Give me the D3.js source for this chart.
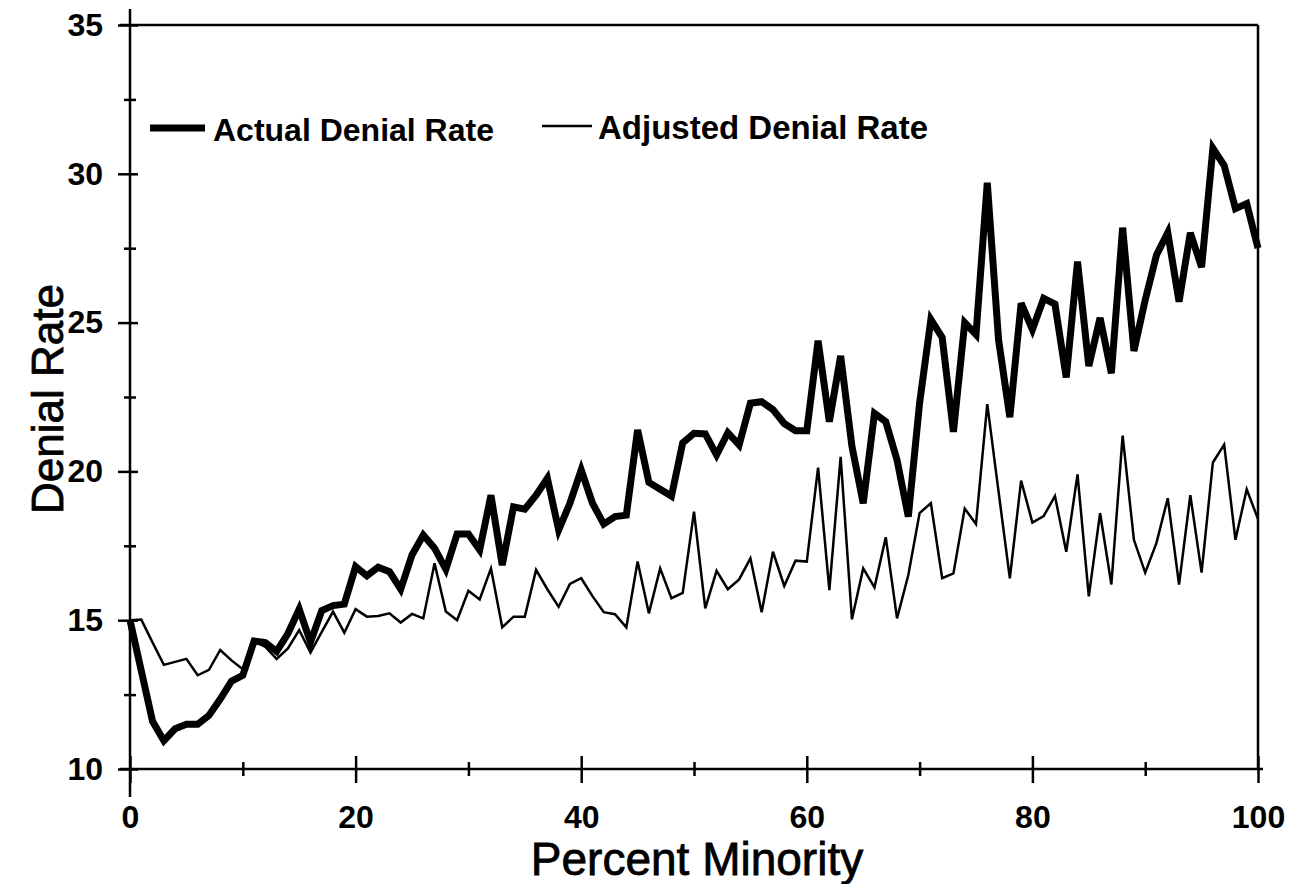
<!DOCTYPE html>
<html>
<head>
<meta charset="utf-8">
<script src="https://cdn.jsdelivr.net/npm/d3@7"></script>
<style>
  body { margin: 0; background: #fff; }
  text { font-family: Arial, "Liberation Sans", sans-serif; fill: #000; }
</style>
</head>
<body>
<svg id="chart" width="1295" height="884"></svg>
<script>
// percent minority, one point per percent
const percentMinority = d3.range(0, 101)

const actualRate = [
  15.0, 13.3, 11.6, 10.95, 11.35, 11.5, 11.5, 11.8, 12.35, 12.95,
  13.15, 14.3, 14.25, 13.95, 14.55, 15.37, 14.26, 15.32, 15.49, 15.54,
  16.8, 16.49, 16.78, 16.63, 16.04, 17.19, 17.86, 17.42, 16.71, 17.9,
  17.9, 17.36, 19.2, 16.85, 18.81, 18.73, 19.2, 19.77, 18.03, 18.93,
  20.05, 18.93, 18.23, 18.48, 18.53, 21.39, 19.63, 19.4, 19.17, 20.96,
  21.28, 21.26, 20.55, 21.3, 20.89, 22.29, 22.34, 22.08, 21.61, 21.37,
  21.37, 24.39, 21.67, 23.88, 20.85, 18.93, 21.95, 21.67, 20.38, 18.48,
  22.3, 25.1, 24.5, 21.33, 25.0, 24.6, 29.7, 24.42, 21.82, 25.65,
  24.77, 25.81, 25.62, 23.16, 27.05, 23.54, 25.16, 23.3, 28.19, 24.05,
  25.76, 27.27, 28.02, 25.7, 28.02, 26.86, 30.86, 30.28, 28.83, 29.0,
  27.5
]

const adjustedRate = [
  15.0, 15.02, 14.25, 13.5, 13.6, 13.7, 13.15, 13.33, 14.0, 13.65,
  13.35, 14.3, 14.1, 13.7, 14.05, 14.67, 13.91, 14.61, 15.29, 14.58,
  15.37, 15.12, 15.14, 15.23, 14.92, 15.21, 15.06, 16.91, 15.29, 15.0,
  15.99, 15.7, 16.74, 14.76, 15.12, 15.12, 16.69, 16.04, 15.45, 16.22,
  16.41, 15.81, 15.27, 15.2, 14.76, 16.97, 15.23, 16.74, 15.74, 15.92,
  18.65, 15.4, 16.66, 16.04, 16.37, 17.08, 15.27, 17.3, 16.15, 17.0,
  16.97, 20.13, 16.01, 20.49, 15.03, 16.74, 16.1, 17.79, 15.06, 16.52,
  18.6, 18.93, 16.41, 16.57, 18.75, 18.23, 22.26, 19.32, 16.41, 19.69,
  18.28, 18.5, 19.17, 17.3, 19.9, 15.8, 18.6, 16.2, 21.2, 17.7,
  16.6, 17.6, 19.1, 16.2, 19.2, 16.6, 20.3, 20.9, 17.7, 19.4,
  18.4
]

const xMajorTicks = [0, 20, 40, 60, 80, 100]
const xMinorTicks = [10, 30, 50, 70, 90]
const yMajorTicks = [10, 15, 20, 25, 30, 35]
const yMinorTicks = [12.5, 17.5, 22.5, 27.5, 32.5]

const seriesNames = ["Actual Denial Rate", "Adjusted Denial Rate"]

const margin = { top: 25, right: 37, bottom: 115, left: 130 }
const width = 1295 - margin.left - margin.right
const height = 884 - margin.top - margin.bottom

const svg = d3.select("#chart")
const g = svg.append("g")
  .attr("transform", "translate(" + margin.left + "," + margin.top + ")")

const x = d3.scaleLinear().domain([0, 100]).range([0, width])
const y = d3.scaleLinear().domain([10, 35]).range([height, 0])

// frame: top and right edges
g.append("line")
  .attr("x1", -10).attr("x2", width).attr("y1", 0).attr("y2", 0)
  .attr("stroke", "#000").attr("stroke-width", 2.5)
g.append("line")
  .attr("x1", width).attr("x2", width).attr("y1", 0).attr("y2", height)
  .attr("stroke", "#000").attr("stroke-width", 2.5)

// y axis, major + minor ticks crossing the line
const yMajor = g.append("g")
  .call(d3.axisLeft(y).tickValues(yMajorTicks).tickSize(12).tickPadding(15).tickFormat(d3.format("d")))
yMajor.selectAll(".tick line").attr("x2", -12).attr("x1", 8)
yMajor.select(".domain").remove()

const yMinor = g.append("g")
  .call(d3.axisLeft(y).tickValues(yMinorTicks).tickSize(6).tickFormat(""))
yMinor.selectAll(".tick line").attr("x2", -6).attr("x1", 6)
yMinor.select(".domain").remove()

g.append("line")
  .attr("x1", 0).attr("x2", 0).attr("y1", -16).attr("y2", height + 28)
  .attr("stroke", "#000").attr("stroke-width", 2.5)

// x axis
const xMajor = g.append("g")
  .attr("transform", "translate(0," + height + ")")
  .call(d3.axisBottom(x).tickValues(xMajorTicks).tickSize(14).tickPadding(22).tickFormat(d3.format("d")))
xMajor.selectAll(".tick line").attr("y1", -13).attr("y2", 14)
xMajor.select(".domain").remove()

const xMinor = g.append("g")
  .attr("transform", "translate(0," + height + ")")
  .call(d3.axisBottom(x).tickValues(xMinorTicks).tickSize(7).tickFormat(""))
xMinor.selectAll(".tick line").attr("y1", -7).attr("y2", 7)
xMinor.select(".domain").remove()

g.append("line")
  .attr("x1", -10).attr("x2", width + 5).attr("y1", height).attr("y2", height)
  .attr("stroke", "#000").attr("stroke-width", 2.5)

g.selectAll(".tick line").attr("stroke", "#000").attr("stroke-width", 2.5)
g.selectAll(".tick text")
  .style("font-size", "32px").style("font-weight", "bold").attr("fill", "#000")

// axis titles
g.append("text")
  .attr("x", width / 2 + 3).attr("y", height + 106)
  .attr("text-anchor", "middle")
  .style("font-size", "46px")
  .attr("stroke", "#000").attr("stroke-width", 0.8)
  .text("Percent Minority")

g.append("text")
  .attr("transform", "translate(-67," + (height / 2 + 2) + ") rotate(-90)")
  .attr("text-anchor", "middle")
  .style("font-size", "44px")
  .attr("stroke", "#000").attr("stroke-width", 0.8)
  .text("Denial Rate")

// lines
const line = (vals) => d3.line()
  .x((d, i) => x(percentMinority[i]))
  .y(d => y(d))(vals)

g.append("path")
  .attr("d", line(adjustedRate))
  .attr("fill", "none").attr("stroke", "#000")
  .attr("stroke-width", 2.5).attr("stroke-linejoin", "miter")

g.append("path")
  .attr("d", line(actualRate))
  .attr("fill", "none").attr("stroke", "#000")
  .attr("stroke-width", 7).attr("stroke-linejoin", "miter")

// legend
const legend = svg.append("g").attr("transform", "translate(150,128)")
legend.append("line")
  .attr("x1", 0).attr("x2", 55).attr("y1", 0).attr("y2", 0)
  .attr("stroke", "#000").attr("stroke-width", 7)
legend.append("text")
  .attr("x", 63).attr("y", 13)
  .style("font-size", "32px").style("font-weight", "bold")
  .text(seriesNames[0])
legend.append("line")
  .attr("x1", 392).attr("x2", 442).attr("y1", -2).attr("y2", -2)
  .attr("stroke", "#000").attr("stroke-width", 2.5)
legend.append("text")
  .attr("x", 448).attr("y", 11)
  .style("font-size", "33px").style("font-weight", "bold")
  .text(seriesNames[1])
</script>
</body>
</html>
